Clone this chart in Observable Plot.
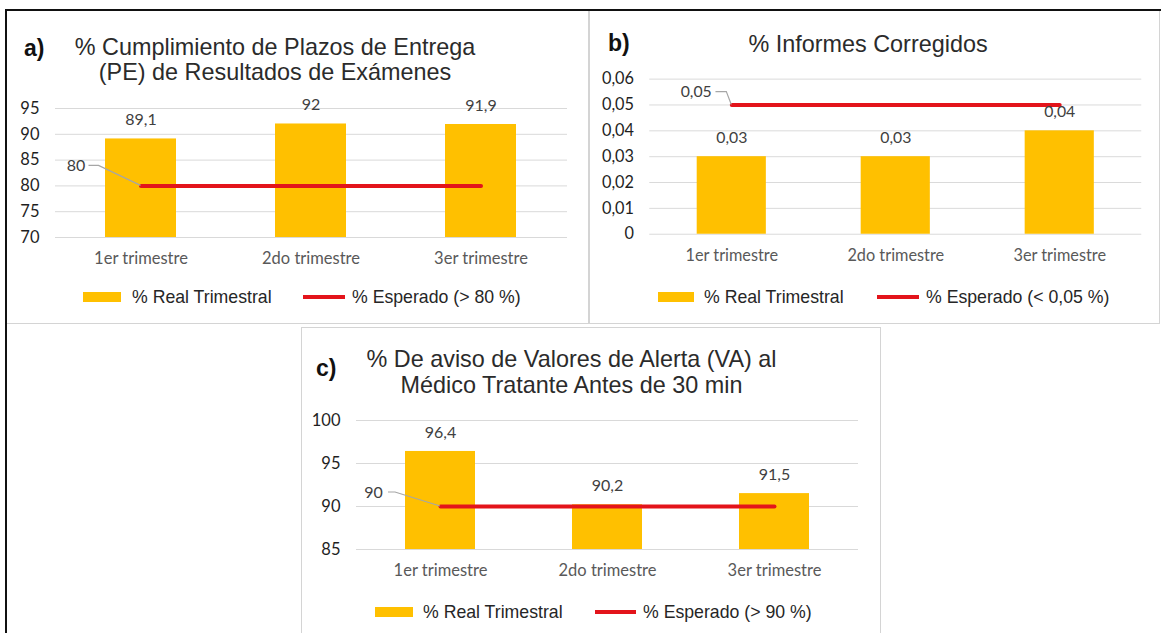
<!DOCTYPE html>
<html><head><meta charset="utf-8">
<script src="https://cdn.jsdelivr.net/npm/d3@7"></script>
<script src="https://cdn.jsdelivr.net/npm/@observablehq/plot@0.6"></script>
<style>
html,body{margin:0;padding:0;background:#fff;}
body{width:1161px;height:633px;position:relative;overflow:hidden;font-family:"Liberation Sans",Arial,sans-serif;}
.abs{position:absolute;}
.title{position:absolute;font-size:23.4px;line-height:25px;color:#2b2b2b;text-align:center;white-space:nowrap;transform:translateX(-50%);}
.tag{position:absolute;font-size:23px;font-weight:bold;color:#111;line-height:26px;}
.leg{position:absolute;font-size:17.7px;line-height:20px;color:#262626;white-space:nowrap;}
.sw{position:absolute;background:#FFC000;}
.ln{position:absolute;background:#e3141b;}
svg{overflow:visible}
</style></head><body>
<script>
// ---- data ----
const categories = ["1er trimestre", "2do trimestre", "3er trimestre"];
const realA = [89.1, 92, 91.9];
const expectedA = [80, 80, 80];
const ticksA = [70, 75, 80, 85, 90, 95];
const realB = [0.03, 0.03, 0.04];
const expectedB = [0.05, 0.05, 0.05];
const ticksB = [0, 0.01, 0.02, 0.03, 0.04, 0.05, 0.06];
const realC = [96.4, 90.2, 91.5];
const expectedC = [90, 90, 90];
const ticksC = [85, 90, 95, 100];
const tagA = "a)", tagB = "b)", tagC = "c)";
const titleA = ["% Cumplimiento de Plazos de Entrega", "(PE) de Resultados de Exámenes"];
const titleB = ["% Informes Corregidos"];
const titleC = ["% De aviso de Valores de Alerta (VA) al", "Médico Tratante Antes de 30 min"];
const legendReal = "% Real Trimestral";
const legendExpA = "% Esperado (> 80 %)";
const legendExpB = "% Esperado (< 0,05 %)";
const legendExpC = "% Esperado (> 90 %)";

const GOLD = "#FFC000", RED = "#e3141b";
const fmt = d => String(d).replace(".", ",");
const ns = "http://www.w3.org/2000/svg";

function el(cls, css, text) {
  const e = document.createElement("div");
  e.className = cls;
  Object.assign(e.style, css);
  if (text != null) e.textContent = text;
  document.body.appendChild(e);
  return e;
}

function leaderMark(d, pts) {
  return (index, scales) => {
    const sx = scales.x;
    const bw = typeof sx.bandwidth === "function" ? sx.bandwidth() : 0;
    const x = sx(d.cat) + bw / 2, y = scales.y(d.expected);
    const p = document.createElementNS(ns, "path");
    p.setAttribute("d", "M" + pts.map(([dx, dy]) => `${x + dx},${y + dy}`).join("L"));
    p.setAttribute("fill", "none");
    p.setAttribute("stroke", "#a6a6a6");
    p.setAttribute("stroke-width", "1.2");
    return p;
  };
}

function chart({real, expected, ticks, gx0, gx1, gyTop, gyBottom, note}) {
  const data = categories.map((c, i) => ({cat: c, real: real[i], expected: expected[i]}));
  const ml = Math.min(60, gx0), mt = 30, mr = 20, mb = 45;
  const svg = Plot.plot({
    width: gx1 - gx0 + ml + mr,
    height: gyBottom - gyTop + mt + mb,
    marginLeft: ml, marginRight: mr, marginTop: mt, marginBottom: mb,
    style: {fontFamily: "Lato, 'Open Sans', sans-serif", fontSize: "16px", background: "transparent", overflow: "visible"},
    x: {type: "band", domain: categories, paddingInner: 0.58, paddingOuter: 0.29, axis: null, label: null},
    y: {domain: [ticks[0], ticks[ticks.length - 1]], axis: null, label: null},
    marks: [
      Plot.gridY(ticks, {stroke: "#d9d9d9", strokeOpacity: 1}),
      Plot.barY(data, {x: "cat", y1: ticks[0], y2: "real", fill: GOLD}),
      Plot.lineY(data, {x: "cat", y: "expected", stroke: RED, strokeWidth: 4}),
      Plot.text(data, {x: "cat", y: "real", text: d => fmt(d.real), dy: -19, fill: "#404040", fontSize: 16}),
      Plot.text([data[0]], {x: "cat", y: "expected", text: d => fmt(d.expected), dx: note.dx, dy: note.dy, fill: "#404040", fontSize: 16}),
      leaderMark(data[0], note.path),
      Plot.axisX({tickSize: 0, tickPadding: 15, color: "#595959", fontSize: 16.5, label: null}),
      Plot.axisY({ticks, tickSize: 0, tickPadding: 16, tickFormat: fmt, color: "#1f1f1f", fontSize: 16.5, label: null})
    ]
  });
  const wrap = el("abs", {left: (gx0 - ml) + "px", top: (gyTop - mt) + "px"});
  wrap.appendChild(svg);
}

function titleLines(lines, cx, ys) {
  lines.forEach((t, i) => el("title", {left: cx + "px", top: (ys[i] - 12.5) + "px"}, t));
}

function legend(y, sw0, sw1, t1, ln0, ln1, t2, txtExp) {
  el("sw", {left: sw0 + "px", top: (y - 5) + "px", width: (sw1 - sw0) + "px", height: "10px"});
  el("leg", {left: t1 + "px", top: (y - 10) + "px"}, legendReal);
  el("ln", {left: ln0 + "px", top: (y - 2) + "px", width: (ln1 - ln0) + "px", height: "4px"});
  el("leg", {left: t2 + "px", top: (y - 10) + "px"}, txtExp);
}

// ---- frames ----
el("abs", {left: "5px", top: "9px", width: "1156px", height: "2px", background: "#111"});
el("abs", {left: "5px", top: "9px", width: "2px", height: "624px", background: "#111"});
el("abs", {left: "7px", top: "11px", width: "581px", height: "312px", borderRight: "1px solid #d4d4d4", borderBottom: "1px solid #d4d4d4"});
el("abs", {left: "589px", top: "11px", width: "569px", height: "312px", borderLeft: "1px solid #d4d4d4", borderRight: "1px solid #d4d4d4", borderBottom: "1px solid #d4d4d4"});
el("abs", {left: "301px", top: "327px", width: "578px", height: "320px", border: "1px solid #d4d4d4"});

// ---- panel a ----
el("tag", {left: "24px", top: "35px"}, tagA);
titleLines(titleA, 275, [47, 72]);
chart({real: realA, expected: expectedA, ticks: ticksA, gx0: 55, gx1: 567, gyTop: 108, gyBottom: 237,
  note: {dx: -65, dy: -20, path: [[-52, -20], [-42, -20], [0, 0]]}});
legend(297, 83, 121, 132, 303, 345, 352, legendExpA);

// ---- panel b ----
el("tag", {left: "608px", top: "30px"}, tagB);
titleLines(titleB, 868, [44]);
chart({real: realB, expected: expectedB, ticks: ticksB, gx0: 650, gx1: 1148, gyTop: 79, gyBottom: 236,
  note: {dx: -36, dy: -13, path: [[-16, -13], [-5, -13], [0, 0]]}});
legend(297, 658, 694, 704, 877, 919, 926, legendExpB);

// ---- panel c ----
el("tag", {left: "316px", top: "355px"}, tagC);
titleLines(titleC, 571.5, [359, 385]);
chart({real: realC, expected: expectedC, ticks: ticksC, gx0: 356, gx1: 858, gyTop: 420, gyBottom: 549,
  note: {dx: -67, dy: -14, path: [[-52, -14], [-45, -14], [0, 0]]}});
legend(612, 375, 413, 423, 595, 636, 643, legendExpC);
</script>
</body></html>
